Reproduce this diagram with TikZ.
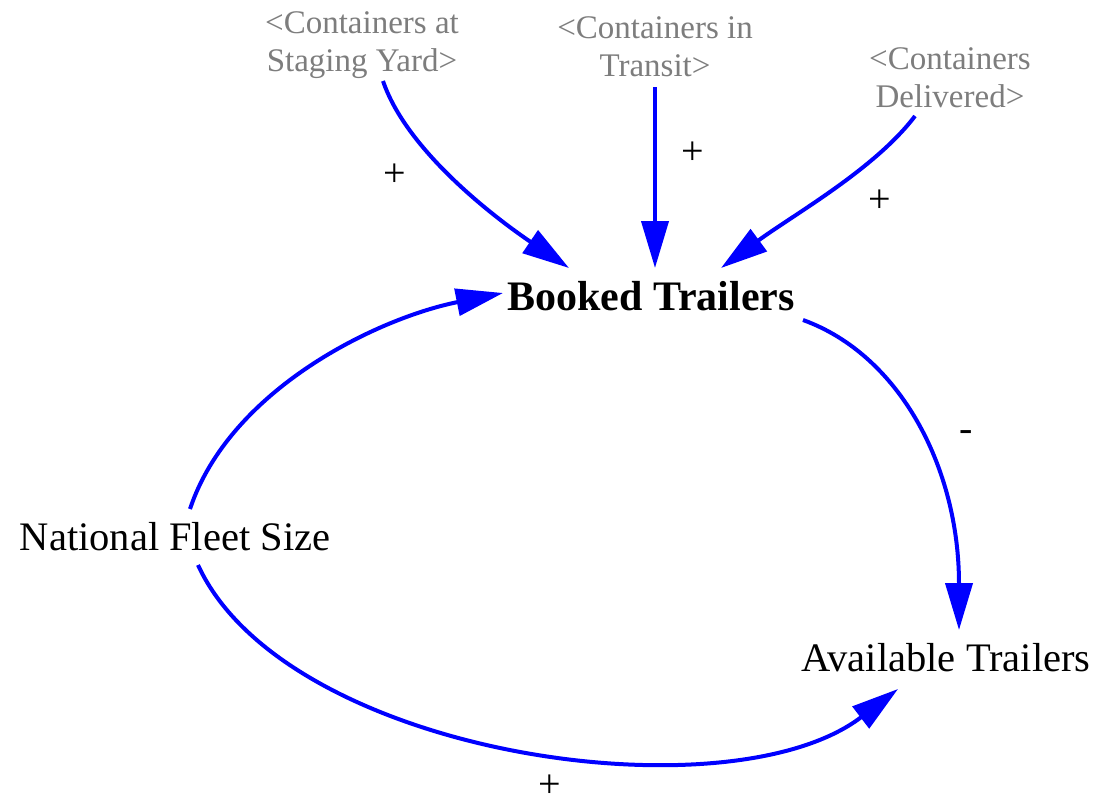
\documentclass[tikz,border=0pt]{standalone}
\usepackage{fontspec}
\setmainfont{Liberation Serif}
\usetikzlibrary{arrows.meta}
\definecolor{linkblue}{RGB}{0,0,255}
\definecolor{shadowgray}{RGB}{125,125,125}
\tikzset{
  varname/.style={inner sep=0pt, font=\fontsize{40.5}{46}\selectfont},
  shadowvar/.style={inner sep=0pt, align=center, text=shadowgray, font=\fontsize{33}{38}\selectfont},
  polarity/.style={inner sep=0pt, font=\fontsize{40}{44}\selectfont},
  link/.style={draw=linkblue, line width=4pt, -{Triangle[length=47pt,width=27pt]}},
}
\begin{document}
\begin{tikzpicture}[x=1pt,y=-1pt]
\useasboundingbox (0,0) rectangle (1097,806);

% variables
\node[shadowvar] (csy) at (362,45) {<Containers at\\Staging Yard>};
\node[shadowvar] (cit) at (655,47) {<Containers in\\Transit>};
\node[shadowvar] (cdl) at (950,78) {<Containers\\Delivered>};
\node[varname, font=\bfseries\fontsize{42}{48}\selectfont] (bt) at (651,296) {Booked Trailers};
\node[varname] (nfs) at (175,537) {National Fleet Size};
\node[varname] (avl) at (946,658) {Available Trailers};

% causal links
\draw[link] ([shift={(21,36)}]csy.center) .. controls +(23,68) and +(-78,-53) .. ([shift={(-82,-28)}]bt.center);
\draw[link] ([shift={(0,40)}]cit.center) -- ([shift={(4,-28)}]bt.center);
\draw[link] ([shift={(-35,38)}]cdl.center) .. controls +(-40,53) and +(72,-53) .. ([shift={(70,-28)}]bt.center);
\draw[link] ([shift={(15,-28)}]nfs.center) .. controls +(40,-120) and +(-125,25) .. ([shift={(-148,-3)}]bt.center);
\draw[link] ([shift={(152,24)}]bt.center) .. controls +(97,35) and +(0,-162) .. ([shift={(13,-28)}]avl.center);
\draw[link] ([shift={(23,28)}]nfs.center) .. controls +(87,190) and +(-170,130) .. ([shift={(-48,31)}]avl.center);

% polarities
\node[polarity] (p1) at (395,175) {+};
\node[polarity] (p2) at (693,153) {+};
\node[polarity] (p3) at (880,201) {+};
\node[polarity] (p4) at (966,436) {-};
\node[polarity] (p5) at (550,786) {+};
\end{tikzpicture}
\end{document}
